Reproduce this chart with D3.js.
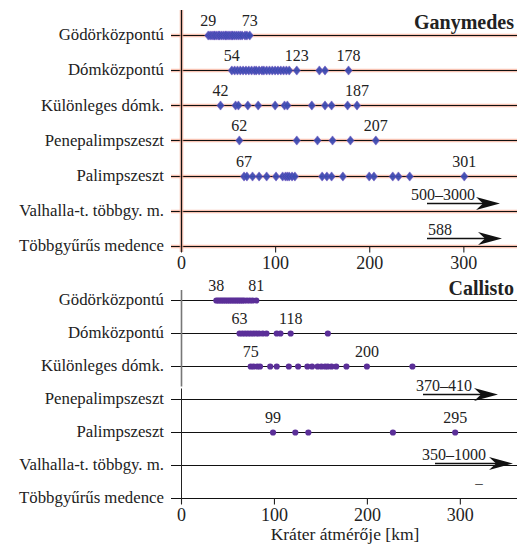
<!DOCTYPE html>
<html>
<head>
<meta charset="utf-8">
<script src="https://cdn.jsdelivr.net/npm/d3@7"></script>
<style>
  html, body { margin: 0; padding: 0; background: #fff; }
  svg { display: block; }
  svg text { font-family: "Liberation Serif", "Times New Roman", serif; }
</style>
</head>
<body>
<svg id="chart" width="517" height="545"></svg>
<script>
// Crater classes (shared by both moons)
const categories = [
  "Gödörközpontú",
  "Dómközpontú",
  "Különleges dómk.",
  "Penepalimpszeszt",
  "Palimpszeszt",
  "Valhalla-t. többgy. m.",
  "Többgyűrűs medence"
];

// Ganymedes crater diameters [km] per class
const ganyGodor = [29, 31, 33, 35, 36, 38, 40, 41, 43, 45, 47, 48, 50, 52, 54, 55, 57, 59, 61, 63, 65, 68, 70, 73];
const ganyDom = [54, 57, 60, 63, 66, 69, 72, 75, 78, 80, 83, 86, 88, 91, 94, 97, 100, 103, 106, 109, 112, 115, 123, 147, 153, 178];
const ganyKulonleges = [42, 58, 61, 71, 82, 100, 110, 113, 139, 153, 160, 177, 187];
const ganyPenepal = [62, 123, 145, 161, 180, 207];
const ganyPalimp = [67, 70, 76, 83, 91, 101, 108, 111, 113, 115, 118, 121, 150, 155, 160, 172, 200, 205, 225, 231, 243, 301];
const ganyValues = [ganyGodor, ganyDom, ganyKulonleges, ganyPenepal, ganyPalimp, [], []];
const ganyLabelValues = [[29, 73], [54, 123, 178], [42, 187], [62, 207], [67, 301], [], []];
const ganyRanges = [null, null, null, null, null, "500–3000", "588"];

// Callisto crater diameters [km] per class
const callGodor = [38, 40, 42, 44, 46, 48, 50, 52, 54, 56, 58, 60, 62, 64, 66, 68, 71, 74, 77, 81];
const callDom = [63, 66, 69, 72, 75, 78, 81, 84, 88, 92, 103, 107, 118, 158];
const callKulonleges = [75, 78, 82, 85, 96, 103, 116, 126, 136, 141, 147, 151, 155, 158, 162, 167, 178, 200, 249];
const callPalimp = [99, 123, 137, 228, 295];
const callValues = [callGodor, callDom, callKulonleges, [], callPalimp, [], []];
const callLabelValues = [[38, 81], [63, 118], [75, 200], [], [99, 295], [], []];
const callRanges = [null, null, null, "370–410", null, "350–1000", null];

const xTicks = [0, 100, 200, 300];

const SERIF = "Liberation Serif, Times New Roman, serif";
const svg = d3.select("#chart");

// arrowhead shape (dart with notched back), tip at origin pointing right
const arrowPath = "M0,0 L-24,-6.5 L-17,0 L-24,6.5 Z";
// small diamond marker
const diamondPath = "M0,-4.6 L3.6,0 L0,4.6 L-3.6,0 Z";

// keep thin rules crisp
const crisp = v => Math.round(v) + 0.5;

function panel(opts) {
  const g = svg.append("g");
  const x = d3.scaleLinear().domain([0, opts.xmax]).range([181, 517]);
  const y = d3.scalePoint().domain(categories).range(opts.yRange);

  const glow = opts.glow;
  const lineX0 = 171;

  // row lines
  categories.forEach(c => {
    if (glow) {
      g.append("line").attr("x1", lineX0).attr("x2", 517)
        .attr("y1", crisp(y(c))).attr("y2", crisp(y(c)))
        .attr("stroke", "#f6b09a").attr("stroke-width", 3.6).attr("opacity", 0.75);
    }
    g.append("line").attr("x1", lineX0).attr("x2", 517)
      .attr("y1", crisp(y(c))).attr("y2", crisp(y(c)))
      .attr("stroke", "#111").attr("stroke-width", 1.1);
  });

  // vertical axis
  const vx = crisp(x(0));
  if (glow) {
    g.append("line").attr("x1", vx).attr("x2", vx)
      .attr("y1", opts.vTop).attr("y2", opts.yRange[1] + 6)
      .attr("stroke", "#f6b09a").attr("stroke-width", 3.6).attr("opacity", 0.75);
    g.append("line").attr("x1", vx).attr("x2", vx)
      .attr("y1", opts.vTop).attr("y2", opts.yRange[1] + 6)
      .attr("stroke", "#111").attr("stroke-width", 1.2);
  } else {
    // upper part drawn grey, lower part thin black
    const split = (y(categories[2]) + y(categories[3])) / 2 + 4;
    g.append("line").attr("x1", vx).attr("x2", vx)
      .attr("y1", opts.vTop).attr("y2", split)
      .attr("stroke", "#777").attr("stroke-width", 1.6);
    g.append("line").attr("x1", vx).attr("x2", vx)
      .attr("y1", split + 2).attr("y2", opts.yRange[1] + 6)
      .attr("stroke", "#222").attr("stroke-width", 1);
  }

  // x axis ticks and labels
  const axis = d3.axisBottom(x).tickValues(xTicks).tickSize(6).tickPadding(4).tickFormat(d3.format("d"));
  const ax = g.append("g").attr("transform", `translate(0,${crisp(opts.yRange[1])})`).call(axis);
  ax.attr("font-family", SERIF);
  ax.select(".domain").remove();
  ax.selectAll(".tick line").attr("stroke", "#222").attr("stroke-width", 1.1);
  ax.selectAll(".tick text")
    .attr("font-family", SERIF)
    .attr("font-size", 18).attr("fill", "#222");

  // category labels
  g.selectAll("text.cat").data(categories).join("text")
    .attr("class", "cat")
    .attr("x", 164).attr("y", d => y(d))
    .attr("dy", "0.32em")
    .attr("text-anchor", "end")
    .attr("font-family", SERIF)
    .attr("font-size", 16.8)
    .attr("fill", "#222")
    .text(d => d);

  // crater marks
  categories.forEach((c, i) => {
    const vals = opts.values[i];
    const cy = crisp(y(c));
    if (opts.shape === "diamond") {
      g.selectAll(null).data(vals).join("path")
        .attr("d", diamondPath)
        .attr("transform", d => `translate(${x(d)},${cy})`)
        .attr("fill", opts.color)
        .attr("stroke", "#6a4fc0").attr("stroke-width", 0.6)
        .attr("opacity", 0.95);
    } else {
      g.selectAll(null).data(vals).join("circle")
        .attr("cx", d => x(d)).attr("cy", cy).attr("r", 3.1)
        .attr("fill", opts.color);
    }
    // value labels above first/last marks
    g.selectAll(null).data(opts.labels[i]).join("text")
      .attr("x", d => x(d)).attr("y", y(c) - 9)
      .attr("text-anchor", "middle")
      .attr("font-family", SERIF)
      .attr("font-size", 16).attr("fill", "#222")
      .text(d => d);

    // off-scale ranges shown as arrows
    const r = opts.ranges[i];
    if (r) {
      const a = opts.arrows[r];
      const ay = crisp(y(c) + a.dy);
      g.append("line")
        .attr("x1", a.x1).attr("x2", a.tip - 12)
        .attr("y1", ay).attr("y2", ay)
        .attr("stroke", "#111").attr("stroke-width", 1.3);
      g.append("path").attr("d", arrowPath)
        .attr("transform", `translate(${a.tip},${ay})`)
        .attr("fill", "#111");
      g.append("text")
        .attr("x", a.tx).attr("y", ay - 4)
        .attr("font-family", SERIF)
        .attr("font-size", 16).attr("fill", "#222")
        .text(r);
    }
  });

  // moon name
  g.append("text")
    .attr("x", 514).attr("y", opts.titleY)
    .attr("text-anchor", "end")
    .attr("font-family", SERIF)
    .attr("font-weight", "bold").attr("font-size", 20)
    .attr("fill", "#222")
    .text(opts.title);
  return { x, y, g };
}

panel({
  title: "Ganymedes", titleY: 29,
  xmax: 357, yRange: [34.7, 246], vTop: 10,
  values: ganyValues, labels: ganyLabelValues, ranges: ganyRanges,
  shape: "diamond", color: "#3d4db3", glow: true, vColor: "#111",
  arrows: {
    "500–3000": { x1: 427, tip: 500, dy: -8, tx: 411 },
    "588": { x1: 427, tip: 502, dy: -8, tx: 428 }
  }
});

const bottom = panel({
  title: "Callisto", titleY: 295,
  xmax: 361.5, yRange: [300, 498], vTop: 290,
  values: callValues, labels: callLabelValues, ranges: callRanges,
  shape: "circle", color: "#5b2f98", glow: false, vColor: "#555",
  arrows: {
    "370–410": { x1: 423, tip: 498, dy: -5, tx: 416 },
    "350–1000": { x1: 435, tip: 513, dy: -2, tx: 422 }
  }
});

// small dash in the multi-ring basin row
bottom.g.append("text")
  .attr("x", 479).attr("y", bottom.y("Többgyűrűs medence") - 10)
  .attr("text-anchor", "middle")
  .attr("font-family", SERIF)
  .attr("font-size", 15).attr("fill", "#222")
  .text("–");

// x axis title
svg.append("text")
  .attr("x", 345).attr("y", 540)
  .attr("text-anchor", "middle")
  .attr("font-family", SERIF)
  .attr("font-size", 17.5).attr("fill", "#222")
  .text("Kráter átmérője [km]");
</script>
</body>
</html>
